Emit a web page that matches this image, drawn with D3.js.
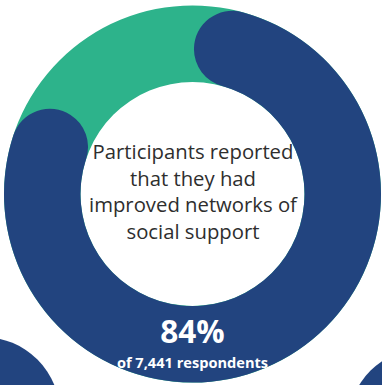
<!DOCTYPE html>
<html>
<head>
<meta charset="utf-8">
<script src="https://cdn.jsdelivr.net/npm/d3@7"></script>
<style>
  html, body { margin: 0; padding: 0; background: #ffffff; }
  svg { display: block; }
</style>
</head>
<body>
<svg id="chart" width="382" height="385"></svg>
<script>
// Survey result: share of respondents reporting improved support networks
const categories = ["Improved networks", "Other"];
const values = [84, 16];
const respondents = 7441;
const centerLines = [
  "Participants reported",
  "that they had",
  "improved networks of",
  "social support"
];

const W = 382, H = 385;
const cx = 192.5, cy = 194;
const outerR = 188.5, innerR = 112;
const NAVY = "#22447f", GREEN = "#2db38b", TEXT = "#2e2e2e";

const svg = d3.select("#chart");

// Edges of the neighbouring rings peeking in at the bottom corners
const neighbours = [
  { x: -17, y: 414, r: 77 },
  { x: 425, y: 425, r: 77 }
];
svg.selectAll("circle.neighbour")
  .data(neighbours)
  .join("circle")
  .attr("class", "neighbour")
  .attr("cx", d => d.x)
  .attr("cy", d => d.y)
  .attr("r", d => d.r)
  .attr("fill", NAVY);

const g = svg.append("g").attr("transform", `translate(${cx},${cy})`);

const pie = d3.pie()
  .sort(null)
  .startAngle(0.01)
  .endAngle(0.01 + 2 * Math.PI);
const arcs = pie(values);

// Full track in the secondary colour
const track = d3.arc().innerRadius(innerR).outerRadius(outerR);
g.append("path")
  .attr("d", track({ startAngle: 0, endAngle: 2 * Math.PI }))
  .attr("fill", GREEN);

// Main share drawn on top with rounded ends
const mainArc = d3.arc()
  .innerRadius(innerR)
  .outerRadius(outerR)
  .cornerRadius((outerR - innerR) / 2);
g.append("path")
  .datum(arcs[0])
  .attr("d", mainArc)
  .attr("fill", NAVY);

// Centre caption
const lineH = 26.7;
g.append("text")
  .attr("text-anchor", "middle")
  .attr("font-family", "'Open Sans', sans-serif")
  .attr("font-size", 20.3)
  .attr("fill", TEXT)
  .selectAll("tspan")
  .data(centerLines)
  .join("tspan")
  .attr("x", 0.5)
  .attr("y", (d, i) => -42 + 7 + i * lineH)
  .text(d => d);

// Value label on the ring
g.append("text")
  .attr("text-anchor", "middle")
  .attr("x", 0)
  .attr("y", 149)
  .attr("font-family", "'Open Sans', sans-serif")
  .attr("font-weight", 700)
  .attr("font-size", 31.5)
  .attr("fill", "#ffffff")
  .text(d3.format("d")(values[0]) + "%");

g.append("text")
  .attr("text-anchor", "middle")
  .attr("x", 0)
  .attr("y", 173.5)
  .attr("font-family", "'Open Sans', sans-serif")
  .attr("font-weight", 700)
  .attr("font-size", 14.6)
  .attr("fill", "#ffffff")
  .text("of " + d3.format(",")(respondents) + " respondents");
</script>
</body>
</html>
